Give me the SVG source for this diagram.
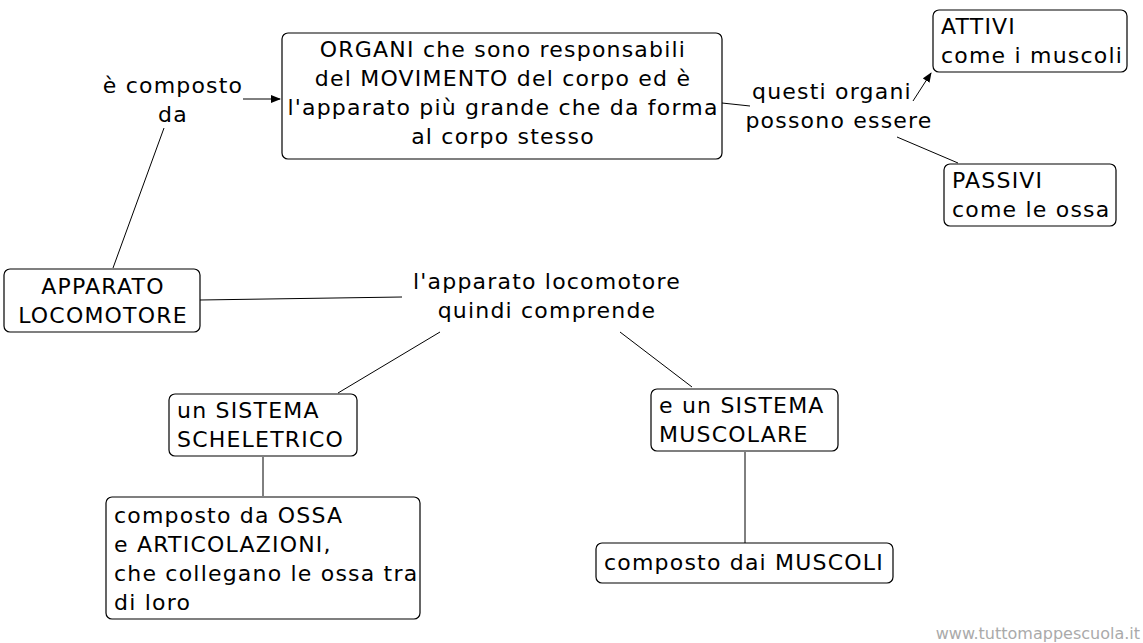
<svg xmlns="http://www.w3.org/2000/svg" width="1143" height="643" viewBox="0 0 1143 643">
<defs>
<style>
.n{fill:#fff;stroke:#000;stroke-width:1.2}
text{font-family:"DejaVu Sans",Verdana,sans-serif;font-size:22px;letter-spacing:1.2px;fill:#000}
.c{text-anchor:middle}
.l{stroke:#000;stroke-width:1;fill:none}
</style>
<marker id="a" markerWidth="10" markerHeight="8" refX="9" refY="4" orient="auto" markerUnits="userSpaceOnUse"><path d="M0,0L10,4L0,8z" fill="#000"/></marker>
</defs>
<rect width="1143" height="643" fill="#fff"/>
<g id="connectors">
<line class="l" x1="113" y1="268" x2="164" y2="128"/>
<line class="l" x1="243" y1="99" x2="280" y2="99" marker-end="url(#a)"/>
<line class="l" x1="722" y1="103" x2="750" y2="106"/>
<line class="l" x1="913" y1="101" x2="931" y2="73" marker-end="url(#a)"/>
<line class="l" x1="897" y1="137" x2="958" y2="163"/>
<line class="l" x1="200" y1="300" x2="402" y2="297"/>
<line class="l" x1="338" y1="393" x2="440" y2="332"/>
<line class="l" x1="620" y1="332" x2="692" y2="387"/>
<line class="l" x1="263" y1="457" x2="263" y2="496"/>
<line class="l" x1="745" y1="452" x2="745" y2="543"/>
</g>
<g id="organi"><rect class="n" x="282" y="33" width="440" height="126" rx="6"/>
<text class="c" x="503" y="57">ORGANI che sono responsabili</text>
<text class="c" x="503" y="86">del MOVIMENTO del corpo ed è</text>
<text class="c" x="503" y="115">l'apparato più grande che da forma</text>
<text class="c" x="503" y="144">al corpo stesso</text></g>
<g id="attivi"><rect class="n" x="933" y="10" width="194" height="62" rx="6"/>
<text x="941" y="34">ATTIVI</text><text x="941" y="63">come i muscoli</text></g>
<g id="passivi"><rect class="n" x="944" y="164" width="172" height="62" rx="6"/>
<text x="952" y="188">PASSIVI</text><text x="952" y="217">come le ossa</text></g>
<g id="apparato"><rect class="n" x="4" y="269" width="196" height="63" rx="6"/>
<text class="c" x="103" y="294">APPARATO</text><text class="c" x="103" y="323">LOCOMOTORE</text></g>
<g id="scheletrico"><rect class="n" x="169" y="394" width="188" height="62" rx="6"/>
<text x="177" y="418">un SISTEMA</text><text x="177" y="447">SCHELETRICO</text></g>
<g id="muscolare"><rect class="n" x="651" y="389" width="187" height="62" rx="6"/>
<text x="659" y="413">e un SISTEMA</text><text x="659" y="442">MUSCOLARE</text></g>
<g id="ossa"><rect class="n" x="106" y="497" width="314" height="122" rx="6"/>
<text x="114" y="523">composto da OSSA</text><text x="114" y="552">e ARTICOLAZIONI,</text>
<text x="114" y="581">che collegano le ossa tra</text><text x="114" y="610">di loro</text></g>
<g id="muscoli"><rect class="n" x="596" y="543" width="297" height="40" rx="6"/>
<text x="604" y="570">composto dai MUSCOLI</text></g>
<g id="labels">
<text class="c" x="173" y="93">è composto</text><text class="c" x="173" y="122">da</text>
<text class="c" x="832" y="99">questi organi</text><text class="c" x="839" y="128">possono essere</text>
<text class="c" x="547" y="289">l'apparato locomotore</text><text class="c" x="547" y="318">quindi comprende</text>
</g>
<text x="1140" y="639" style="font-size:16px;letter-spacing:0;fill:#aaa;text-anchor:end">www.tuttomappescuola.it</text>
</svg>
